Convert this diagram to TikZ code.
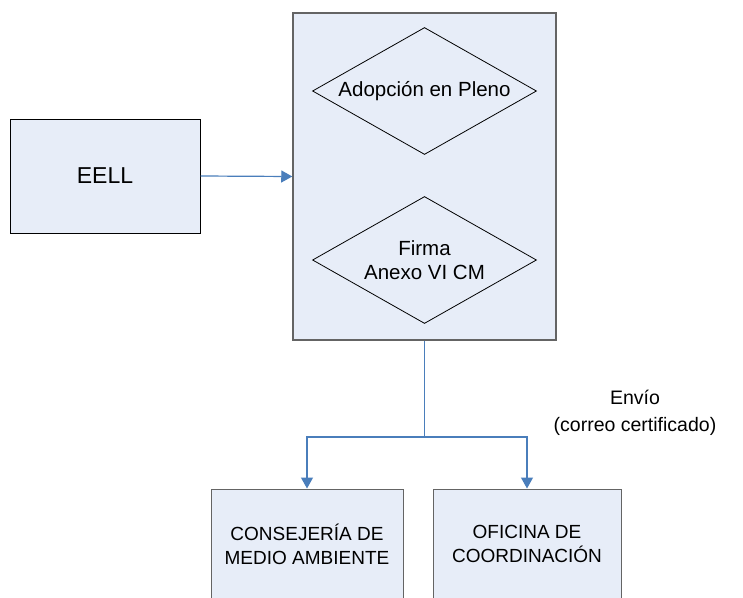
\documentclass[tikz,border=0pt]{standalone}
\usepackage{fontspec}
\setmainfont{Liberation Sans}
\usetikzlibrary{shapes.geometric,arrows.meta}
\definecolor{cajafondo}{RGB}{231,237,248}
\definecolor{enlaceazul}{RGB}{74,126,187}
\definecolor{bordegris}{RGB}{100,100,100}

\begin{document}
\begin{tikzpicture}[x=1pt,y=-1pt,
    caja/.style={draw=black,fill=cajafondo,line width=1pt,inner sep=0pt,align=center,font=\fontsize{19}{24}\selectfont},
    rombo/.style={diamond,aspect=1.76,draw=black,fill=cajafondo,line width=0.8pt,inner sep=0pt,minimum width=224pt,minimum height=127pt,align=center,font=\fontsize{20.5}{24}\selectfont},
    enlace/.style={draw=enlaceazul,line width=1.2pt,-{Triangle[length=11pt,width=12pt]}},
    linea/.style={draw=enlaceazul,line width=1.2pt}]
                \clip (0,0) rectangle (743,597);
                \fill[white] (0,0) rectangle (743,597);
                % origen
                \node[caja,minimum width=190pt,minimum height=114pt,font=\fontsize{23}{28}\selectfont] (eell) at (105,176) {EELL};
                % tramite en la entidad
                \node[caja,draw=bordegris,line width=1.5pt,minimum width=263pt,minimum height=327pt] (acuerdo) at (424.5,176.5) {};
                \node[rombo] (pleno) at (424.5,91) {Adopci\'on en Pleno};
                \node[rombo] (firma) at (424.5,260) {Firma\\Anexo VI CM};
                \draw[enlace] (eell.east) -- (acuerdo.west);
                % destinos
                \node[caja,draw=bordegris,minimum width=192pt,minimum height=110pt] (consejeria) at (307,544) {CONSEJER\'IA DE\\MEDIO AMBIENTE};
                \node[caja,draw=bordegris,minimum width=188pt,minimum height=110pt] (oficina) at (527,544) {OFICINA DE\\COORDINACI\'ON};
                \coordinate (reparto) at (424.5,437);
                \draw[linea] (acuerdo.south) -- (reparto);
                \draw[enlace] (reparto) -| (consejeria.north);
                \draw[enlace] (reparto) -| (oficina.north);
                \node[align=center,font=\fontsize{19.5}{27}\selectfont] (envio) at (635,413) {Env\'io\\(correo certificado)};
            \end{tikzpicture}
\end{document}
